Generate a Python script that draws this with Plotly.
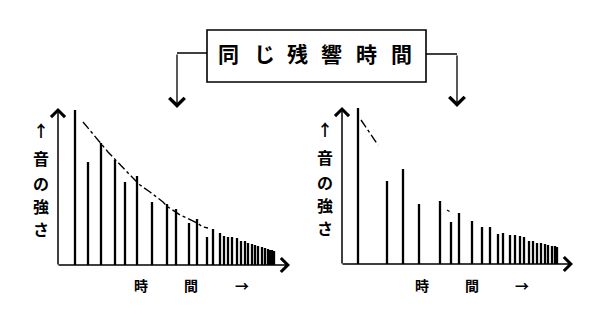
import plotly.graph_objects as go

W, H = 600, 325

# ---------------- data ----------------
title_text = "同じ残響時間"
y_label_chars = ["↑", "音", "の", "強", "さ"]
x_label_chars = ["時", "間", "→"]

# left chart: time (arbitrary units) and sound intensity of each reflection
left_time = [17, 30, 43, 57, 67, 79, 94, 109, 118, 131, 139, 149, 155, 162, 166, 170,
             174, 179, 183, 187, 190, 194, 197, 200, 204, 207, 210, 212, 214, 216]
left_level = [155, 103, 122, 105, 83, 89, 63, 61, 56, 42, 46, 28, 36, 32, 29, 28,
              28, 27, 24, 24, 22, 21, 20, 19, 18, 17, 16, 15, 15, 14]
left_env_time = [25, 34, 50, 72, 82, 92, 105, 110, 122, 129, 139, 145, 150]
left_env_level = [143, 132, 113, 90, 80, 73, 63, 58, 50, 47, 42, 38, 37]

# right chart
right_time = [16, 45, 61, 77, 98, 109, 117, 130, 140, 148, 156, 161, 168, 173, 178,
              182, 187, 191, 195, 199, 203, 206, 210, 213, 215]
right_level = [156, 83, 95, 60, 63, 42, 51, 43, 37, 37, 30, 31, 29, 29, 28,
               27, 23, 23, 21, 21, 20, 19, 18, 18, 17]
right_env1_time = [19, 36]
right_env1_level = [144, 119]
right_env2_time = [105, 110]
right_env2_level = [54, 51]

# ---------------- helpers ----------------
def px(x):
    return x / W

def py(y):
    return 1 - y / H

CJK = "Noto Sans CJK JP"
fig = go.Figure()

bar_style = dict(marker=dict(color="black", line=dict(width=0)), width=2.3, showlegend=False)
fig.add_trace(go.Bar(x=left_time, y=left_level, xaxis="x", yaxis="y", **bar_style))
fig.add_trace(go.Bar(x=right_time, y=right_level, xaxis="x2", yaxis="y2", **bar_style))

env_line = dict(color="black", width=1.4, dash="dashdot")
fig.add_trace(go.Scatter(x=left_env_time, y=left_env_level, mode="lines", line=env_line,
                         xaxis="x", yaxis="y", showlegend=False))
fig.add_trace(go.Scatter(x=right_env1_time, y=right_env1_level, mode="lines", line=env_line,
                         xaxis="x2", yaxis="y2", showlegend=False))
fig.add_trace(go.Scatter(x=right_env2_time, y=right_env2_level, mode="lines",
                         line=dict(color="black", width=1.2, dash="dot"),
                         xaxis="x2", yaxis="y2", showlegend=False))

hidden = dict(visible=False, fixedrange=True)
fig.update_layout(
    width=W, height=H,
    margin=dict(l=0, r=0, t=0, b=0),
    paper_bgcolor="white", plot_bgcolor="rgba(0,0,0,0)",
    barmode="overlay",
    xaxis=dict(domain=[px(58), px(290)], range=[0, 232], **hidden),
    yaxis=dict(domain=[py(265), py(107)], range=[0, 158], **hidden),
    xaxis2=dict(domain=[px(342), px(573)], range=[0, 231], anchor="y2", **hidden),
    yaxis2=dict(domain=[py(264), py(106)], range=[0, 158], anchor="x2", **hidden),
)

annotations = []
shapes = []

# axes drawn as arrows
for xr, yr, xmax, ymax in [("x", "y", 232, 157), ("x2", "y2", 231, 157)]:
    annotations.append(dict(x=0, y=ymax, xref=xr, yref=yr, ax=0, ay=-1, axref=xr, ayref=yr,
                            showarrow=True, arrowhead=4, arrowsize=1.8, arrowwidth=1.5,
                            arrowcolor="black", text=""))
    annotations.append(dict(x=xmax, y=0, xref=xr, yref=yr, ax=-1, ay=0, axref=xr, ayref=yr,
                            showarrow=True, arrowhead=4, arrowsize=1.8, arrowwidth=1.5,
                            arrowcolor="black", text=""))

# title box
shapes.append(dict(type="rect", xref="paper", yref="paper",
                   x0=px(207), x1=px(426), y0=py(82), y1=py(30),
                   line=dict(color="black", width=1.6)))
shapes.append(dict(type="line", xref="paper", yref="paper",
                   x0=px(177), x1=px(207), y0=py(53), y1=py(53),
                   line=dict(color="black", width=1.5)))
shapes.append(dict(type="line", xref="paper", yref="paper",
                   x0=px(426), x1=px(457), y0=py(54), y1=py(54),
                   line=dict(color="black", width=1.5)))
for xx, y_top, y_head in [(177, 53, 108), (457, 54, 107)]:
    annotations.append(dict(x=px(xx), y=py(y_head), xref="paper", yref="paper",
                            ax=0, ay=-(y_head - y_top), showarrow=True, arrowhead=4,
                            arrowsize=2.3, arrowwidth=1.3, arrowcolor="black", text=""))

title_x = [228, 264, 297, 331, 366, 401]
for ch, xx in zip(title_text, title_x):
    annotations.append(dict(x=px(xx), y=py(53), xref="paper", yref="paper", text="<b>" + ch + "</b>",
                            showarrow=False, font=dict(family=CJK, size=21, color="black"),
                            xanchor="center", yanchor="middle"))

# y labels (vertical)
label_y = [130, 158, 183, 206, 229]
for base_x, dy in [(41, 0), (325, -1)]:
    for ch, yy in zip(y_label_chars, label_y):
        annotations.append(dict(x=px(base_x), y=py(yy + dy), xref="paper", yref="paper",
                                text="<b>" + ch + "</b>", showarrow=False,
                                font=dict(family=CJK, size=16, color="black"),
                                xanchor="center", yanchor="middle"))

# x labels
for xs in [(141, 191, 242), (422, 472, 522)]:
    for ch, xx in zip(x_label_chars, xs):
        annotations.append(dict(x=px(xx), y=py(285), xref="paper", yref="paper",
                                text="<b>" + ch + "</b>", showarrow=False,
                                font=dict(family=CJK, size=14, color="black"),
                                xanchor="center", yanchor="middle"))

fig.update_layout(annotations=annotations, shapes=shapes)
fig.write_html("out.html")
